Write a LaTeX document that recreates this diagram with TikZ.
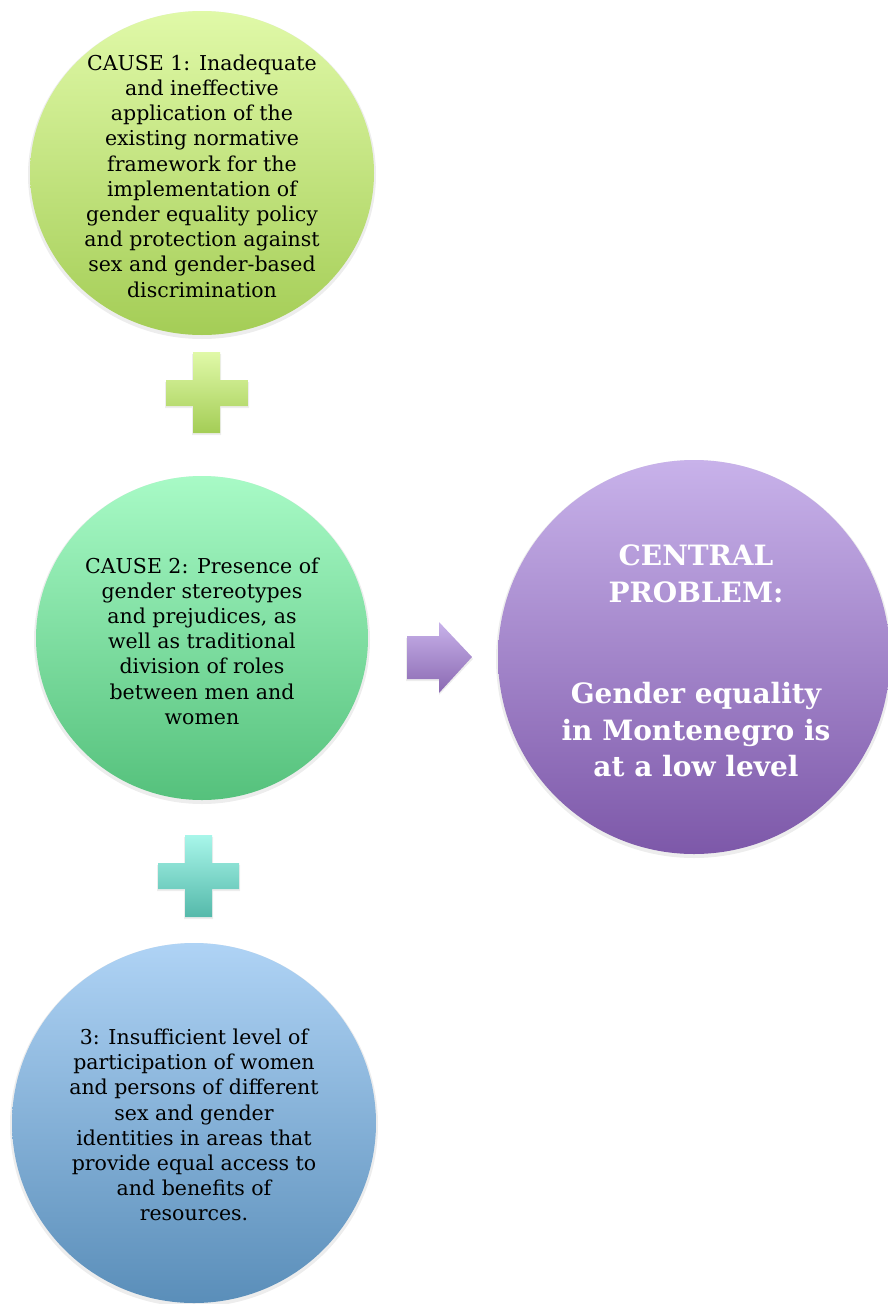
\documentclass[tikz,border=0pt]{standalone}
\usepackage{fontspec}
\setmainfont{DejaVu Serif}
\usepackage{tikz}
\usetikzlibrary{calc}
\definecolor{limeT}{HTML}{E0F9A8}
\definecolor{limeB}{HTML}{A4CD56}
\definecolor{mintT}{HTML}{A8FAC6}
\definecolor{mintB}{HTML}{55C17C}
\definecolor{skyT}{HTML}{AFD3F5}
\definecolor{skyB}{HTML}{5A8EB9}
\definecolor{violT}{HTML}{C8B2EA}
\definecolor{violB}{HTML}{7D58A9}
\definecolor{tealT}{HTML}{A8F6EA}
\definecolor{tealB}{HTML}{55B9AA}

\begin{document}
\begin{tikzpicture}[x=1pt,y=-1pt,
    cause/.style={align=center,text=black,font=\fontsize{20.5}{25.2}\selectfont},
    central/.style={align=center,text=white,font=\bfseries\fontsize{28}{36.5}\selectfont},
    shadowed/.style={fill=black,opacity=0.07}]
    \useasboundingbox (0,0) rectangle (888,1304);
    % circles
    \fill[shadowed](202,175) ellipse (174pt and 164pt);
    \shade[top color=limeT,bottom color=limeB](202,173) ellipse (172pt and 162pt);
    \fill[shadowed](202,640) ellipse (168pt and 164pt);
    \shade[top color=mintT,bottom color=mintB](202,638) ellipse (166pt and 162pt);
    \fill[shadowed](194,1125) ellipse (184pt and 182pt);
    \shade[top color=skyT,bottom color=skyB](194,1123) ellipse (182pt and 180pt);
    \fill[shadowed](694,659) ellipse (198pt and 199pt);
    \shade[top color=violT,bottom color=violB](694,657) ellipse (196pt and 197pt);
    % plus signs and arrow
    \fill[shadowed](192,354)--(221,354)--(221,382)--(249,382)--(249,408)--(221,408)--(221,435)--(192,435)--(192,408)--(165,408)--(165,382)--(192,382)--cycle;
    \shade[top color=limeT,bottom color=limeB](193,352)--(220,352)--(220,380)--(248,380)--(248,406)--(220,406)--(220,433)--(193,433)--(193,406)--(166,406)--(166,380)--(193,380)--cycle;
    \fill[shadowed](184,837)--(213,837)--(213,865)--(240,865)--(240,891)--(213,891)--(213,919)--(184,919)--(184,891)--(157,891)--(157,865)--(184,865)--cycle;
    \shade[top color=tealT,bottom color=tealB](185,835)--(212,835)--(212,863)--(239,863)--(239,889)--(212,889)--(212,917)--(185,917)--(185,889)--(158,889)--(158,863)--(185,863)--cycle;
    \fill[shadowed](406,638)--(439,638)--(439,624)--(473,659)--(439,695)--(439,681)--(406,681)--cycle;
    \shade[top color=violT,bottom color=violB!90!white](407,636)--(439,636)--(439,622)--(472,657)--(439,693)--(439,679)--(407,679)--cycle;
    % texts
    \node[cause](cause1) at (202,176){CAUSE 1: Inadequate\\and ineffective\\application of the\\existing normative\\framework for the\\implementation of\\gender equality policy\\and protection against\\sex and gender-based\\discrimination};
    \node[cause](cause2) at (202,641){CAUSE 2: Presence of\\gender stereotypes\\and prejudices, as\\well as traditional\\division of roles\\between men and\\women};
    \node[cause](cause3) at (194,1125){3: Insufficient level of\\participation of women\\and persons of different\\sex and gender\\identities in areas that\\provide equal access to\\and benefits of\\resources.};
    \node[central](problem) at (696,661){CENTRAL\\PROBLEM:\\[65pt]Gender equality\\in Montenegro is\\at a low level};
  \end{tikzpicture}
\end{document}
